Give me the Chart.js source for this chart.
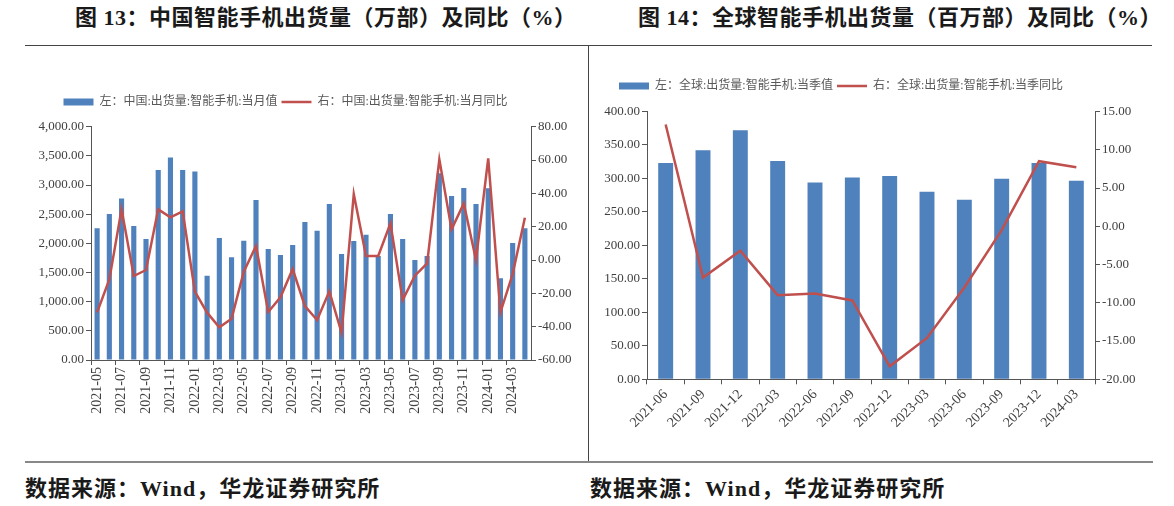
<!DOCTYPE html>
<html>
<head>
<meta charset="utf-8">
<script src="https://cdn.jsdelivr.net/npm/chart.js@4.4.1/dist/chart.umd.min.js"></script>
<style>
  html, body { margin: 0; padding: 0; background: #fff; }
  body { width: 1174px; height: 506px; position: relative; overflow: hidden; }
  .title { position: absolute; top: 5px; font-family: "Liberation Serif", "Noto Sans CJK SC", serif; font-weight: bold; font-size: 22px; letter-spacing: 0.5px; color: #1a1a1a; white-space: nowrap; line-height: 26px; }
  .source { position: absolute; top: 476px; font-family: "Liberation Serif", "Noto Sans CJK SC", serif; font-weight: bold; font-size: 22px; letter-spacing: 1px; color: #1a1a1a; white-space: nowrap; line-height: 26px; }
  .hline { position: absolute; height: 0; }
  canvas { position: absolute; }
</style>
</head>
<body>
<div class="title" style="left:75px;">图 13：中国智能手机出货量（万部）及同比（%）</div>
<div class="title" style="left:638px;">图 14：全球智能手机出货量（百万部）及同比（%）</div>
<div class="hline" style="left:25px; width:1127px; top:45px; border-top:1px solid #444;"></div>
<div style="position:absolute; left:588px; top:45px; width:0; height:417px; border-left:1px solid #444;"></div>
<div class="hline" style="left:25px; width:1128px; top:461px; border-top:2px solid #888;"></div>
<div class="source" style="left:25px;">数据来源：Wind，华龙证券研究所</div>
<div class="source" style="left:590px;">数据来源：Wind，华龙证券研究所</div>

<canvas id="c1" width="563" height="414" style="left:25px; top:46px;"></canvas>
<canvas id="c2" width="570" height="414" style="left:580px; top:46px;"></canvas>

<script>
// ---------- Data ----------
const months = ['2021-05','2021-06','2021-07','2021-08','2021-09','2021-10','2021-11','2021-12',
  '2022-01','2022-02','2022-03','2022-04','2022-05','2022-06','2022-07','2022-08','2022-09','2022-10','2022-11','2022-12',
  '2023-01','2023-02','2023-03','2023-04','2023-05','2023-06','2023-07','2023-08','2023-09','2023-10','2023-11','2023-12',
  '2024-01','2024-02','2024-03','2024-04'];
const cnMonthly = [2257, 2503, 2771, 2297, 2074, 3257, 3474, 3257,
  3234, 1446, 2091, 1760, 2046, 2743, 1903, 1800, 1971, 2366, 2217, 2674,
  1817, 2040, 2149, 1783, 2503, 2074, 1714, 1783, 3200, 2811, 2949, 2674,
  2943, 1400, 2006, 2257];
const cnYoy = [-31.4, -11.6, 30.4, -9.6, -6.0, 30.4, 25.6, 29.2,
  -19.0, -31.6, -40.4, -35.2, -7.0, 8.4, -31.2, -22.4, -5.4, -27.6, -36.0, -18.8,
  -43.6, 39.6, 2.4, 2.4, 22.0, -24.0, -9.4, -2.0, 60.4, 18.4, 34.0, 0.0,
  61.0, -31.4, -8.4, 25.4];

const quarters = ['2021-06','2021-09','2021-12','2022-03','2022-06','2022-09','2022-12','2023-03','2023-06','2023-09','2023-12','2024-03'];
const globalQuarterly = [323, 342, 372, 326, 294, 301.5, 303.5, 280, 268, 299.5, 323, 296.5];
const globalYoy = [13.3, -6.7, -3.2, -9.0, -8.8, -9.7, -18.3, -14.6, -8.0, -0.5, 8.5, 7.7];

const legend1 = ['左：中国:出货量:智能手机:当月值', '右：中国:出货量:智能手机:当月同比'];
const legend2 = ['左：全球:出货量:智能手机:当季值', '右：全球:出货量:智能手机:当季同比'];

// ---------- Styles ----------
const BLUE = '#4F81BD';
const RED = '#C0504D';
const AXIS = '#555555';
const TICKFONT = { family: '"Liberation Serif", "Times New Roman", serif', size: 13 };
const LEGFONT = { family: '"Liberation Serif", "Noto Sans CJK SC", serif', size: 12 };
const fmt = v => Number(v).toLocaleString('en-US', { minimumFractionDigits: 2, maximumFractionDigits: 2 });

function yAxis(pos, min, max, step, width) {
  return {
    position: pos, min: min, max: max,
    afterFit: s => { s.width = width; },
    border: { display: true, color: AXIS, width: 1 },
    grid: { display: true, drawOnChartArea: false, drawTicks: true, tickLength: 5, color: AXIS },
    ticks: { stepSize: step, font: TICKFONT, color: '#404040', padding: 2, callback: v => fmt(v) }
  };
}

function legendOpts() {
  return {
    display: true, position: 'top', align: 'center',
    labels: {
      usePointStyle: true, pointStyleWidth: 30, boxHeight: 7, padding: 4,
      font: LEGFONT, color: '#595959',
      sort: (a, b) => a.datasetIndex - b.datasetIndex
    }
  };
}

// horizontal offset of the legend block (the reference legends are not centred on the canvas)
function legendShift(dx) {
  return {
    id: 'legendShift',
    afterLayout(chart) {
      const l = chart.legend;
      if (l) { l.left += dx; l.right += dx; }
    }
  };
}

// ---------- Chart 13 ----------
new Chart(document.getElementById('c1'), {
  type: 'bar',
  data: {
    labels: months,
    datasets: [
      { type: 'bar', label: legend1[0], data: cnMonthly, yAxisID: 'y', backgroundColor: BLUE,
        borderWidth: 0, pointStyle: 'rect', order: 1, categoryPercentage: 1, barPercentage: 0.42 },
      { type: 'line', label: legend1[1], data: cnYoy, yAxisID: 'y1', borderColor: RED, backgroundColor: RED,
        borderWidth: 2.5, pointRadius: 0, pointStyle: 'line', tension: 0, order: 0 }
    ]
  },
  plugins: [legendShift(-21)],
  options: {
    responsive: false, animation: false, devicePixelRatio: 1,
    layout: { padding: { top: 46, left: 0, right: 0, bottom: 0 } },
    plugins: {
      legend: legendOpts(),
      subtitle: { display: true, text: '', position: 'top', weight: 500, font: { size: 1 }, padding: { top: 0, bottom: 7.5 } },
      tooltip: { enabled: false }
    },
    scales: {
      x: {
        afterFit: s => { s.height = 100; },
        border: { display: true, color: AXIS, width: 1 },
        grid: { display: true, drawOnChartArea: false, drawTicks: true, tickLength: 5, offset: true,
          tickColor: c => (c.index % 2 === 0 ? AXIS : 'rgba(0,0,0,0)') },
        ticks: { autoSkip: false, minRotation: 90, maxRotation: 90, font: { family: TICKFONT.family, size: 14 }, color: '#404040', padding: 2,
          callback: function (v, i) { return i % 2 === 0 ? this.getLabelForValue(v) : ''; } }
      },
      y: yAxis('left', 0, 4000, 500, 66),
      y1: yAxis('right', -60, 80, 20, 57)
    }
  }
});

// ---------- Chart 14 ----------
new Chart(document.getElementById('c2'), {
  type: 'bar',
  data: {
    labels: quarters,
    datasets: [
      { type: 'bar', label: legend2[0], data: globalQuarterly, yAxisID: 'y', backgroundColor: BLUE,
        borderWidth: 0, pointStyle: 'rect', order: 1, categoryPercentage: 1, barPercentage: 0.4 },
      { type: 'line', label: legend2[1], data: globalYoy, yAxisID: 'y1', borderColor: RED, backgroundColor: RED,
        borderWidth: 2.5, pointRadius: 0, pointStyle: 'line', tension: 0, order: 0 }
    ]
  },
  plugins: [legendShift(-24)],
  options: {
    responsive: false, animation: false, devicePixelRatio: 1,
    layout: { padding: { top: 30, left: 0, right: 0, bottom: 0 } },
    plugins: {
      legend: legendOpts(),
      subtitle: { display: true, text: '', position: 'top', weight: 500, font: { size: 1 }, padding: { top: 0, bottom: 8.3 } },
      tooltip: { enabled: false }
    },
    scales: {
      x: {
        afterFit: s => { s.height = 80.7; },
        border: { display: true, color: AXIS, width: 1 },
        grid: { display: true, drawOnChartArea: false, drawTicks: true, tickLength: 5, offset: true, tickColor: AXIS },
        ticks: { autoSkip: false, minRotation: 45, maxRotation: 45, font: { family: TICKFONT.family, size: 14 }, color: '#404040', padding: 2 }
      },
      y: yAxis('left', 0, 400, 50, 67),
      y1: yAxis('right', -20, 15, 5, 55)
    }
  }
});
</script>
</body>
</html>
